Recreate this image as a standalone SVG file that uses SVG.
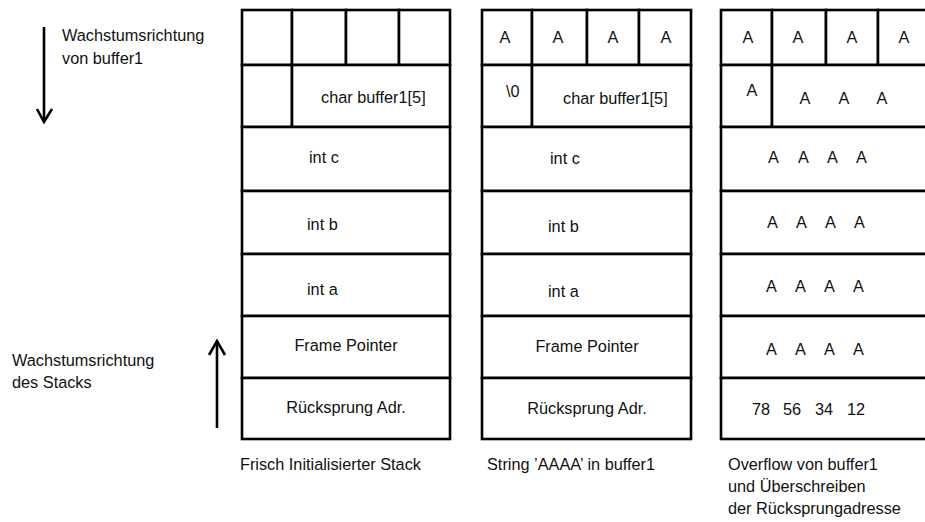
<svg xmlns="http://www.w3.org/2000/svg" width="925" height="522" viewBox="0 0 925 522">
<style>
  .cell { fill: #fff; stroke: #000; stroke-width: 2.6; }
  .t { font-family: "Liberation Sans", Arial, sans-serif; font-size: 16.3px; fill: #111; }
  .m { text-anchor: middle; }
  .arrow { fill: none; stroke: #000; stroke-width: 2.6; stroke-linecap: butt; stroke-linejoin: miter; }
</style>
<rect width="925" height="522" fill="#fff"/>

<!-- Stack 1 -->
<g id="stack1">
  <g id="s1-top">
    <rect class="cell" x="242" y="10" width="50" height="55"/>
    <rect class="cell" x="292" y="10" width="54" height="55"/>
    <rect class="cell" x="346" y="10" width="53" height="55"/>
    <rect class="cell" x="399" y="10" width="51" height="55"/>
  </g>
  <g id="s1-buffer">
    <rect class="cell" x="242" y="65" width="50" height="62"/>
    <rect class="cell" x="292" y="65" width="158" height="62"/>
    <text class="t" x="321" y="103">char buffer1[5]</text>
  </g>
  <g id="s1-intc"><rect class="cell" x="242" y="127" width="208" height="64"/><text class="t" x="309" y="163">int c</text></g>
  <g id="s1-intb"><rect class="cell" x="242" y="191" width="208" height="63"/><text class="t" x="307" y="230">int b</text></g>
  <g id="s1-inta"><rect class="cell" x="242" y="254" width="208" height="62"/><text class="t" x="307" y="295">int a</text></g>
  <g id="s1-fp"><rect class="cell" x="242" y="316" width="208" height="62"/><text class="t m" x="346" y="351">Frame Pointer</text></g>
  <g id="s1-ret"><rect class="cell" x="242" y="378" width="208" height="61"/><text class="t m" x="346" y="413">Rücksprung Adr.</text></g>
  <text class="t" x="240" y="470">Frisch Initialisierter Stack</text>
</g>

<!-- Stack 2 -->
<g id="stack2">
  <g id="s2-top">
    <rect class="cell" x="482" y="10" width="50" height="55"/>
    <rect class="cell" x="532" y="10" width="55" height="55"/>
    <rect class="cell" x="587" y="10" width="52" height="55"/>
    <rect class="cell" x="639" y="10" width="52" height="55"/>
    <text class="t m" x="505" y="43">A</text>
    <text class="t m" x="558" y="43">A</text>
    <text class="t m" x="613" y="43">A</text>
    <text class="t m" x="666" y="43">A</text>
  </g>
  <g id="s2-buffer">
    <rect class="cell" x="482" y="65" width="50" height="62"/>
    <rect class="cell" x="532" y="65" width="159" height="62"/>
    <text class="t" x="506" y="97">\0</text>
    <text class="t" x="563" y="104">char buffer1[5]</text>
  </g>
  <g id="s2-intc"><rect class="cell" x="482" y="127" width="209" height="64"/><text class="t" x="550" y="164">int c</text></g>
  <g id="s2-intb"><rect class="cell" x="482" y="191" width="209" height="63"/><text class="t" x="548" y="232">int b</text></g>
  <g id="s2-inta"><rect class="cell" x="482" y="254" width="209" height="62"/><text class="t" x="548" y="297">int a</text></g>
  <g id="s2-fp"><rect class="cell" x="482" y="316" width="209" height="62"/><text class="t m" x="587" y="352">Frame Pointer</text></g>
  <g id="s2-ret"><rect class="cell" x="482" y="378" width="209" height="61"/><text class="t m" x="587" y="414">Rücksprung Adr.</text></g>
  <text class="t" x="487" y="470">String ’AAAA’ in buffer1</text>
</g>

<!-- Stack 3 -->
<g id="stack3">
  <g id="s3-top">
    <rect class="cell" x="721" y="10" width="51" height="55"/>
    <rect class="cell" x="772" y="10" width="54" height="55"/>
    <rect class="cell" x="826" y="10" width="52" height="55"/>
    <rect class="cell" x="878" y="10" width="60" height="55"/>
    <text class="t m" x="748" y="43">A</text>
    <text class="t m" x="798" y="43">A</text>
    <text class="t m" x="852" y="43">A</text>
    <text class="t m" x="904" y="43">A</text>
  </g>
  <g id="s3-buffer">
    <rect class="cell" x="721" y="65" width="51" height="62"/>
    <rect class="cell" x="772" y="65" width="166" height="62"/>
    <text class="t m" x="752" y="96">A</text>
    <text class="t m" x="805" y="104">A</text>
    <text class="t m" x="844" y="104">A</text>
    <text class="t m" x="882" y="104">A</text>
  </g>
  <g id="s3-intc"><rect class="cell" x="721" y="127" width="217" height="64"/>
    <text class="t" y="163"><tspan x="768">A</tspan><tspan x="798">A</tspan><tspan x="827">A</tspan><tspan x="856">A</tspan></text></g>
  <g id="s3-intb"><rect class="cell" x="721" y="191" width="217" height="63"/>
    <text class="t" y="228"><tspan x="767">A</tspan><tspan x="796">A</tspan><tspan x="825">A</tspan><tspan x="854">A</tspan></text></g>
  <g id="s3-inta"><rect class="cell" x="721" y="254" width="217" height="62"/>
    <text class="t" y="292"><tspan x="766">A</tspan><tspan x="795">A</tspan><tspan x="824">A</tspan><tspan x="853">A</tspan></text></g>
  <g id="s3-fp"><rect class="cell" x="721" y="316" width="217" height="62"/>
    <text class="t" y="355"><tspan x="766">A</tspan><tspan x="795">A</tspan><tspan x="824">A</tspan><tspan x="853">A</tspan></text></g>
  <g id="s3-ret"><rect class="cell" x="721" y="378" width="217" height="61"/>
    <text class="t" y="415"><tspan x="752">78</tspan><tspan x="783">56</tspan><tspan x="815">34</tspan><tspan x="847">12</tspan></text></g>
  <text class="t" x="728" y="470">Overflow von buffer1</text>
  <text class="t" x="728" y="492">und Überschreiben</text>
  <text class="t" x="728" y="514">der Rücksprungadresse</text>
</g>

<!-- Labels -->
<g id="label-buffer">
  <text class="t" x="62" y="41">Wachstumsrichtung</text>
  <text class="t" x="62" y="64">von buffer1</text>
</g>
<g id="label-stack">
  <text class="t" x="12" y="366">Wachstumsrichtung</text>
  <text class="t" x="12" y="388">des Stacks</text>
</g>

<!-- Connectors -->
<g id="connectors">
  <path class="arrow" d="M44 27 V122"/>
  <path class="arrow" d="M37 109 L44 122 L52 109"/>
  <path class="arrow" d="M217 428 V341"/>
  <path class="arrow" d="M209 355 L217 341 L225 355"/>
</g>
</svg>
